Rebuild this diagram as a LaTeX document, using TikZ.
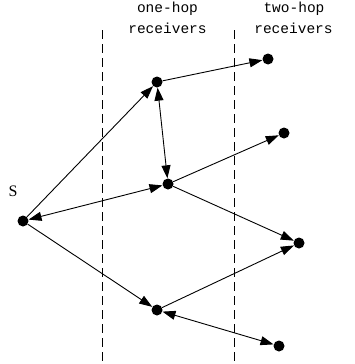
\documentclass[tikz,border=0pt]{standalone}
\usepackage{fontspec}
\newfontfamily\labfont{Liberation Mono}
\setmainfont{Liberation Serif}
\usetikzlibrary{arrows.meta}
\begin{document}
\begin{tikzpicture}[x=1pt,y=-1pt,
  dot/.style={circle,fill=black,inner sep=0pt,minimum size=11pt},
  link/.style={line width=0.9pt,-{Triangle[length=13pt,width=9pt]}},
  blink/.style={line width=0.9pt,{Triangle[length=13pt,width=9pt]}-{Triangle[length=13pt,width=9pt]}},
  sep/.style={line width=0.8pt,dash pattern=on 9pt off 5pt},
  hdr/.style={font=\labfont\fontsize{14.5}{16}\selectfont,inner sep=0pt}]
\useasboundingbox (0,0) rectangle (354,364);
\node[hdr] (h1a) at (167.5,9) {one-hop};
\node[hdr] (h1b) at (167.5,28) {receivers};
\node[hdr] (h2a) at (294,9) {two-hop};
\node[hdr] (h2b) at (293.5,28) {receivers};
\coordinate (d1t) at (102,30); \coordinate (d1b) at (102,364);
\coordinate (d2t) at (234,30); \coordinate (d2b) at (234,364);
\draw[sep] (d1t) -- (d1b);
\draw[sep] (d2t) -- (d2b);
\node[dot] (S) at (23,221) {};
\node[font=\fontsize{16}{18}\selectfont,inner sep=0pt] (Sl) at (13,191) {S};
\node[dot] (A) at (157,82) {};
\node[dot] (B) at (268,59) {};
\node[dot] (C) at (168,184) {};
\node[dot] (D) at (284,133) {};
\node[dot] (E) at (299,243) {};
\node[dot] (F) at (157,310) {};
\node[dot] (G) at (279,346) {};
\draw[link] (S) -- (A);
\draw[link] (A) -- (B);
\draw[blink] (A) -- (C);
\draw[blink] (S) -- (C);
\draw[link] (C) -- (D);
\draw[link] (C) -- (E);
\draw[link] (S) -- (F);
\draw[link] (F) -- (E);
\draw[blink] (F) -- (G);
\end{tikzpicture}
\end{document}
